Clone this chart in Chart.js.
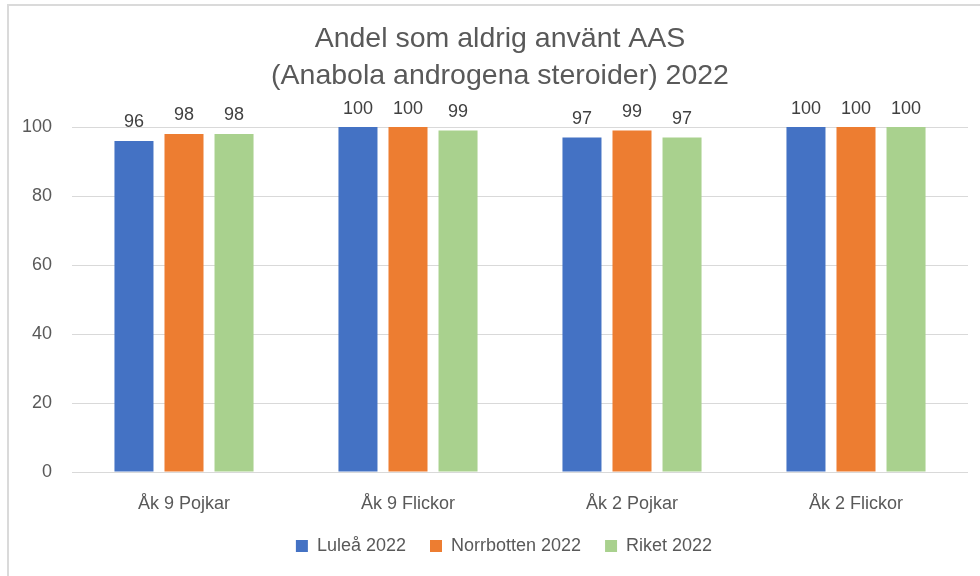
<!DOCTYPE html>
<html>
<head>
<meta charset="utf-8">
<script src="https://cdn.jsdelivr.net/npm/chart.js@4"></script>
<style>
    html, body { margin: 0; padding: 0; background: #ffffff; }
    #wrap { position: relative; width: 980px; height: 576px; overflow: hidden; }
    #frame { position: absolute; left: 7px; top: 4px; width: 1000px; height: 600px;
             border-top: 2px solid #dadada; border-left: 2px solid #dadada; }
    canvas { position: absolute; left: 0; top: 0; }
</style>
</head>
<body>
<div id="wrap">
    <div id="frame"></div>
    <canvas id="chart" width="980" height="576"></canvas>
</div>
<script>
// 数据
const categories = ['Åk 9 Pojkar', 'Åk 9 Flickor', 'Åk 2 Pojkar', 'Åk 2 Flickor'];
const seriesNames = ['Luleå 2022', 'Norrbotten 2022', 'Riket 2022'];
const luleaValues = [96, 100, 97, 100];
const norrbottenValues = [98, 100, 99, 100];
const riketValues = [98, 99, 97, 100];
const yTicks = [0, 20, 40, 60, 80, 100];
const titleLines = ['Andel som aldrig använt AAS', '(Anabola androgena steroider) 2022'];

const colors = ['#4472C4', '#ED7D31', '#A9D18E'];
const fontFamily = "'Liberation Sans', Arial, sans-serif";

/**
 * 柱顶数值标签
 */
const valueLabels = {
    id: 'valueLabels',
    afterDatasetsDraw(chart) {
        const ctx = chart.ctx;
        ctx.save();
        ctx.font = '18px ' + fontFamily;
        ctx.fillStyle = '#404040';
        ctx.textAlign = 'center';
        ctx.textBaseline = 'alphabetic';
        chart.data.datasets.forEach((ds, i) => {
            chart.getDatasetMeta(i).data.forEach((bar, j) => {
                ctx.fillText(String(ds.data[j]), bar.x, bar.y - 13.5);
            });
        });
        ctx.restore();
    }
};

/**
 * 标题和图例的位置微调
 */
const shiftBoxes = {
    id: 'shiftBoxes',
    afterLayout(chart) {
        const t = chart.titleBlock;
        t.left += 10;
        t.right += 10;
        const lg = chart.legend;
        const h = lg.bottom - lg.top;
        lg.left += 14;
        lg.right += 14;
        lg.top = 546 - 9 - 24;
        lg.bottom = lg.top + h;
    }
};

new Chart(document.getElementById('chart'), {
    type: 'bar',
    data: {
        labels: categories,
        datasets: [luleaValues, norrbottenValues, riketValues].map((vals, i) => ({
            label: seriesNames[i],
            data: vals,
            backgroundColor: colors[i],
            borderWidth: 0,
            categoryPercentage: 0.67,
            barPercentage: 0.78
        }))
    },
    options: {
        responsive: false,
        animation: false,
        layout: { padding: { left: 12, right: 12, top: 14, bottom: 7 } },
        plugins: {
            title: {
                display: true,
                text: titleLines,
                color: '#595959',
                font: { family: fontFamily, size: 28.5, weight: 'normal', lineHeight: 1.3 },
                padding: { top: 7, bottom: 32 }
            },
            legend: {
                position: 'bottom',
                labels: {
                    color: '#595959',
                    font: { family: fontFamily, size: 18 },
                    boxWidth: 12,
                    boxHeight: 12,
                    padding: 24
                }
            },
            tooltip: { enabled: false }
        },
        scales: {
            x: {
                afterFit(axis) { axis.height = 45; },
                grid: { display: false, drawTicks: false },
                border: { display: false },
                ticks: {
                    color: '#595959',
                    font: { family: fontFamily, size: 18 },
                    padding: 21
                }
            },
            y: {
                min: 0,
                max: 100,
                afterBuildTicks(axis) {
                    axis.ticks = yTicks.map(v => ({ value: v }));
                },
                afterFit(axis) { axis.width = 60; },
                grid: { color: '#d9d9d9', lineWidth: 1, drawTicks: false },
                border: { display: false },
                ticks: {
                    color: '#595959',
                    font: { family: fontFamily, size: 18 },
                    padding: 20
                }
            }
        }
    },
    plugins: [valueLabels, shiftBoxes]
});
</script>
</body>
</html>
